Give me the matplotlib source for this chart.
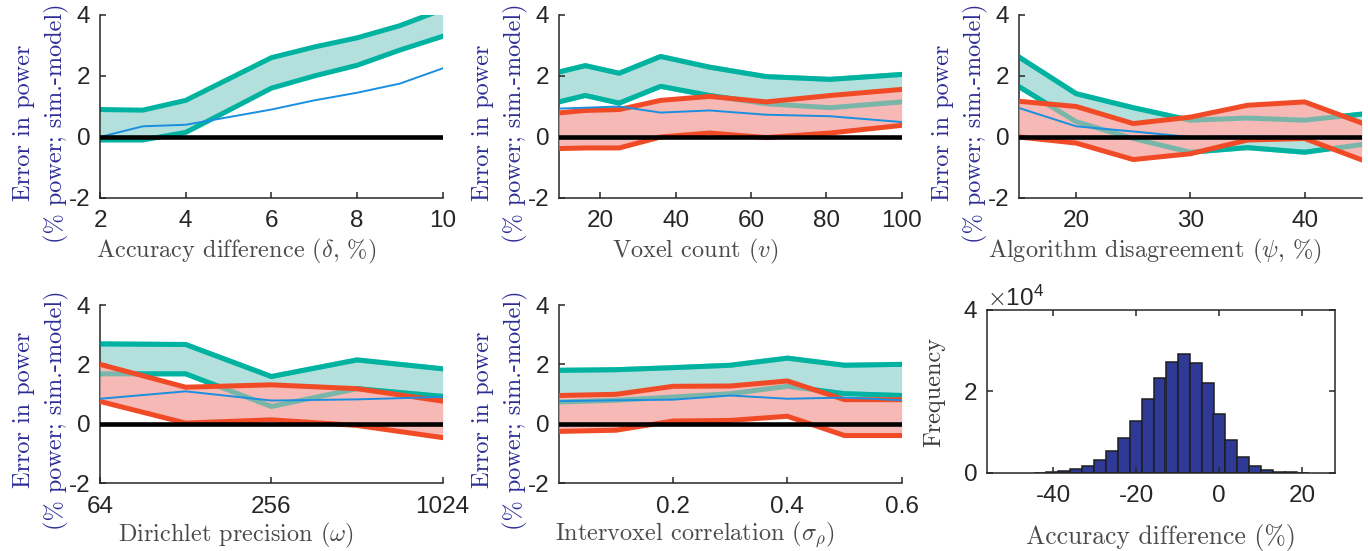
import numpy as np
import matplotlib.pyplot as plt

plt.rcParams['font.family'] = ['Liberation Sans', 'DejaVu Sans']
plt.rcParams['mathtext.fontset'] = 'cm'
plt.rcParams['axes.unicode_minus'] = False

# ---- values ----
# (a) accuracy difference
delta = [2, 3, 4, 5, 6, 7, 8, 9, 10]
delta_teal_hi = [0.9, 0.88, 1.2, 1.9, 2.6, 2.95, 3.25, 3.65, 4.18]
delta_teal_lo = [-0.1, -0.1, 0.15, 0.87, 1.6, 2.0, 2.35, 2.85, 3.3]
delta_blue = [0.0, 0.35, 0.4, 0.65, 0.9, 1.2, 1.45, 1.75, 2.25]

# (b) voxel count
voxels = [9, 16, 25, 36, 49, 64, 81, 100]
vox_teal_hi = [2.13, 2.34, 2.09, 2.64, 2.29, 1.98, 1.89, 2.05]
vox_teal_lo = [1.15, 1.36, 1.11, 1.66, 1.36, 1.09, 0.96, 1.15]
vox_red_hi = [0.79, 0.87, 0.9, 1.2, 1.33, 1.15, 1.36, 1.56]
vox_red_lo = [-0.38, -0.36, -0.36, 0.0, 0.13, -0.02, 0.13, 0.38]
vox_blue = [0.93, 0.96, 1.0, 0.8, 0.87, 0.73, 0.68, 0.49]

# (c) algorithm disagreement
psi = [15, 20, 25, 30, 35, 40, 45]
psi_teal_hi = [2.62, 1.42, 0.96, 0.55, 0.62, 0.55, 0.75]
psi_teal_lo = [1.65, 0.5, -0.05, -0.5, -0.35, -0.5, -0.25]
psi_red_hi = [1.17, 1.0, 0.44, 0.65, 1.04, 1.15, 0.46]
psi_red_lo = [0.0, -0.2, -0.74, -0.55, -0.1, -0.05, -0.75]
psi_blue = [0.95, 0.35, 0.18, 0.0, 0.02, 0.0, 0.0]

# (d) Dirichlet precision
omega = [64, 128, 256, 512, 1024]
om_teal_hi = [2.69, 2.67, 1.59, 2.15, 1.85]
om_teal_lo = [1.68, 1.68, 0.58, 1.18, 0.92]
om_red_hi = [2.0, 1.23, 1.31, 1.18, 0.76]
om_red_lo = [0.75, 0.02, 0.13, -0.06, -0.47]
om_blue = [0.84, 1.09, 0.78, 0.82, 0.9]

# (e) intervoxel correlation
sigma = [0.0, 0.1, 0.2, 0.3, 0.4, 0.5, 0.6]
sig_teal_hi = [1.8, 1.82, 1.89, 1.97, 2.21, 1.97, 2.0]
sig_teal_lo = [0.73, 0.79, 0.9, 1.01, 1.26, 1.01, 0.95]
sig_red_hi = [0.95, 0.99, 1.26, 1.27, 1.44, 0.81, 0.81]
sig_red_lo = [-0.26, -0.22, 0.09, 0.11, 0.25, -0.4, -0.4]
sig_blue = [0.76, 0.79, 0.81, 0.95, 0.84, 0.88, 0.79]

# (f) histogram of accuracy differences
hist_left = [-44.6, -41.7, -38.8, -35.9, -33.0, -30.2, -27.3, -24.4, -21.5, -18.6,
             -15.8, -12.9, -10.0, -7.1, -4.2, -1.4, 1.5, 4.4, 7.3, 10.2, 13.0, 15.9, 18.8]
hist_counts = [100, 200, 400, 1000, 1800, 3300, 5500, 8600, 12800, 18100, 23200,
               27200, 29100, 27100, 22000, 14400, 8000, 3900, 1600, 700, 300, 150, 100]
hist_width = 2.88

TEAL = '#00b3a1'
TEAL_FILL = '#b3dfdc'
RED = '#f04b26'
RED_FILL = '#f6b9b5'
BLUE = '#1a8fe0'
AXC = '#262626'
YLAB = '#2d2d96'
XLAB = '#4a4a4a'
FS = 17.5

fig = plt.figure(figsize=(13.68, 5.51), dpi=100)

TOP_Y, TOP_H = 0.6407, 0.3321
BOT_Y, BOT_H = 0.1234, 0.3230
COL_X = [0.0731, 0.4086, 0.7449]
W = 0.2505

panels = [
    ([COL_X[0], TOP_Y, W, TOP_H], delta, delta_teal_hi, delta_teal_lo, None, None, delta_blue,
     (2, 10), [2, 4, 6, 8, 10], r'Accuracy difference ($\delta$, %)'),
    ([COL_X[1], TOP_Y, W, TOP_H], voxels, vox_teal_hi, vox_teal_lo, vox_red_hi, vox_red_lo, vox_blue,
     (9, 100), [20, 40, 60, 80, 100], r'Voxel count ($v$)'),
    ([COL_X[2], TOP_Y, W, TOP_H], psi, psi_teal_hi, psi_teal_lo, psi_red_hi, psi_red_lo, psi_blue,
     (15, 45), [20, 30, 40], r'Algorithm disagreement ($\psi$, %)'),
    ([COL_X[0], BOT_Y, W, BOT_H], omega, om_teal_hi, om_teal_lo, om_red_hi, om_red_lo, om_blue,
     (64, 1024), [64, 256, 1024], r'Dirichlet precision ($\omega$)'),
    ([COL_X[1], BOT_Y, W, BOT_H], sigma, sig_teal_hi, sig_teal_lo, sig_red_hi, sig_red_lo, sig_blue,
     (0, 0.6), [0.2, 0.4, 0.6], r'Intervoxel correlation ($\sigma_\rho$)'),
]

for pos, x, t_hi, t_lo, r_hi, r_lo, blue, xlim, xticks, xlabel in panels:
    ax = fig.add_axes(pos)
    ax.fill_between(x, t_lo, t_hi, color=TEAL_FILL, lw=0, zorder=1)
    ax.plot(x, t_hi, color=TEAL, lw=3.6, zorder=2)
    ax.plot(x, t_lo, color=TEAL, lw=3.6, zorder=2)
    if r_hi is not None:
        ax.fill_between(x, r_lo, r_hi, color=RED_FILL, lw=0, zorder=3)
        # teal edges stay faintly visible through the red band
        ax.plot(x, t_hi, color=TEAL, lw=3.6, alpha=0.5, zorder=4)
        ax.plot(x, t_lo, color=TEAL, lw=3.6, alpha=0.5, zorder=4)
        ax.plot(x, r_hi, color=RED, lw=3.6, zorder=5)
        ax.plot(x, r_lo, color=RED, lw=3.6, zorder=5)
    ax.plot(x, blue, color=BLUE, lw=1.4, zorder=6)
    ax.axhline(0, color='black', lw=3.3, zorder=7)

    if xlim == (64, 1024):
        ax.set_xscale('log', base=2)
        ax.minorticks_off()
    ax.set_xlim(*xlim)
    ax.set_xticks(xticks)
    ax.set_xticklabels([str(t) for t in xticks])
    ax.set_ylim(-2, 4)
    ax.set_yticks([-2, 0, 2, 4])

    ax.spines[['top', 'right']].set_visible(False)
    for s in ['left', 'bottom']:
        ax.spines[s].set_linewidth(1.1)
        ax.spines[s].set_color(AXC)
    ax.tick_params(direction='in', length=4, width=1.1, color=AXC,
                   labelsize=FS, labelcolor=AXC)
    ax.tick_params(axis='x', pad=9)
    ax.tick_params(axis='y', pad=7)

    ax.set_xlabel(xlabel, family='cmr10', fontsize=FS, color=XLAB)
    ax.xaxis.set_label_coords(0.397, -0.21)
    ax.text(-0.172, 0.41, 'Error in power\n(% power; sim.-model)', transform=ax.transAxes,
            rotation=90, rotation_mode='anchor', ha='center', va='center',
            family='cmr10', fontsize=FS, color=YLAB, linespacing=1.45)

# histogram panel
ax = fig.add_axes([0.7215, 0.1416, 0.2544, 0.2958])
ax.bar(hist_left, hist_counts, width=hist_width, align='edge',
       color='#2e3a96', edgecolor='#1e1e1e', linewidth=1.1)
ax.set_xlim(-56, 28)
ax.set_ylim(0, 40000)
ax.set_xticks([-40, -20, 0, 20])
ax.set_yticks([0, 20000, 40000])
ax.ticklabel_format(axis='y', style='sci', scilimits=(4, 4), useMathText=True)
ax.yaxis.get_offset_text().set_fontsize(FS)
ax.yaxis.get_offset_text().set_color(AXC)
for s in ax.spines.values():
    s.set_linewidth(1.1)
    s.set_color(AXC)
ax.tick_params(direction='in', length=4, width=1.1, color=AXC, top=True, right=True,
               labelsize=FS, labelcolor=AXC)
ax.tick_params(axis='x', pad=9)
ax.tick_params(axis='y', pad=7)
ax.set_xlabel('Accuracy difference (%)', family='cmr10', fontsize=18.5, color=XLAB)
ax.xaxis.set_label_coords(0.5, -0.31)
ax.set_ylabel('Frequency', family='cmr10', fontsize=FS, color='#3c3c3c')
ax.yaxis.set_label_coords(-0.121, 0.5)

fig.savefig('out.png', dpi=100)
